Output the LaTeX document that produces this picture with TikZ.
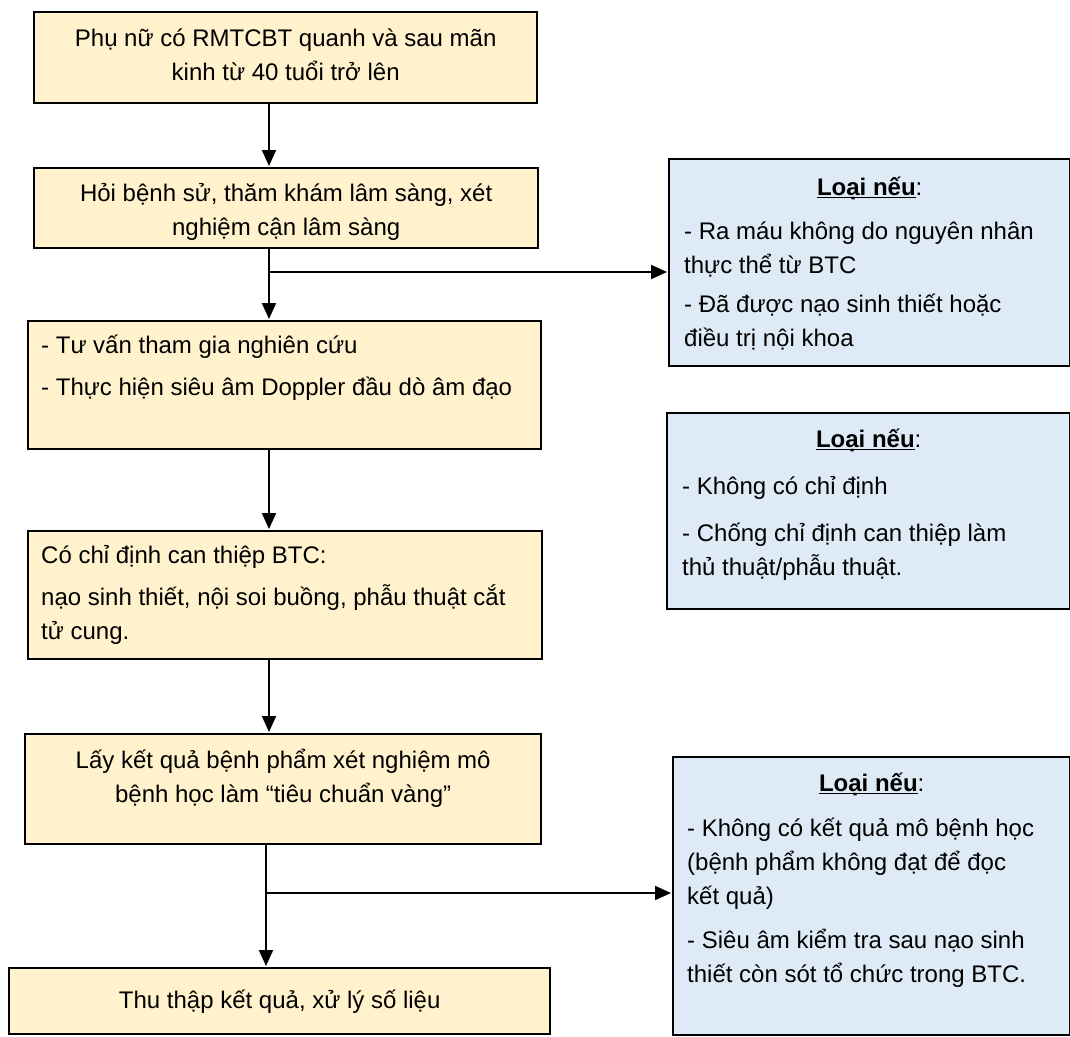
\documentclass[tikz,border=0pt]{standalone}
\usepackage{fontspec}
\setmainfont{Liberation Sans}
\usetikzlibrary{arrows.meta,positioning}
\definecolor{stepfill}{HTML}{FFF2CC}
\definecolor{exclfill}{HTML}{DEEBF7}
\newcommand{\boxfont}{\fontsize{24}{34}\selectfont}
\newcommand{\tstrut}{\rule{0pt}{26pt}}
% width, height, top gap, content
\newcommand{\boxtext}[4]{\parbox[c][#2][t]{#1}{\boxfont\vspace*{#3}#4}}
\newcommand{\headul}[1]{\setbox0\hbox{#1}\rlap{\rule[-3pt]{\wd0}{1.5pt}}\box0}
\newcommand{\exclhead}{{\centering\tstrut\headul{\textbf{Loại nếu}}:\par}}
\tikzset{
  >={Triangle[length=16pt,width=14pt]},
  stepbox/.style={draw=black,line width=2.4pt,fill=stepfill,inner sep=0pt,
    anchor=north west},
  exclbox/.style={stepbox,fill=exclfill},
  flow/.style={->,line width=2pt,shorten >=1pt},
  link/.style={line width=2pt},
}

\begin{document}
\begin{tikzpicture}[x=1pt,y=-1pt]
  \useasboundingbox (0,0) rectangle (1070,1036);
  % main column
  \node[stepbox] (sIn) at (33,11) {\boxtext{503pt}{91pt}{8pt}{\centering\tstrut
    Phụ nữ có RMTCBT quanh và sau mãn\\ kinh từ 40 tuổi trở lên}};
  \node[stepbox] (sExam) at (33,167) {\boxtext{504pt}{80pt}{7pt}{\centering\tstrut
    Hỏi bệnh sử, thăm khám lâm sàng, xét\\ nghiệm cận lâm sàng}};
  \node[stepbox] (sCons) at (27,320) {\boxtext{513pt}{128pt}{6pt}{\raggedright
    \leftskip=13pt\tstrut - Tư vấn tham gia nghiên cứu\par\vspace{8pt}
    - Thực hiện siêu âm Doppler đầu dò âm đạo}};
  \node[stepbox] (sInd) at (27,530) {\boxtext{514pt}{128pt}{6pt}{\raggedright
    \leftskip=13pt\tstrut Có chỉ định can thiệp BTC:\par\vspace{8pt}
    nạo sinh thiết, nội soi buồng, phẫu thuật cắt\\ tử cung.}};
  \node[stepbox] (sPath) at (24,733) {\boxtext{516pt}{110pt}{8pt}{\centering\tstrut
    Lấy kết quả bệnh phẩm xét nghiệm mô\\ bệnh học làm “tiêu chuẩn vàng”}};
  \node[stepbox] (sData) at (8,967) {\boxtext{541pt}{66pt}{14pt}{\centering\tstrut
    Thu thập kết quả, xử lý số liệu}};
  % exclusion boxes
  \node[exclbox] (xExam) at (668,158) {\boxtext{401pt}{207pt}{10pt}{\raggedright
    \leftskip=15pt\exclhead\vspace{10pt}
    - Ra máu không do nguyên nhân\\ thực thể từ BTC\par\vspace{5pt}
    - Đã được nạo sinh thiết hoặc\\ điều trị nội khoa}};
  \node[exclbox] (xCons) at (666,412) {\boxtext{403pt}{196pt}{8pt}{\raggedright
    \leftskip=15pt\exclhead\vspace{13pt}
    - Không có chỉ định\par\vspace{13pt}
    - Chống chỉ định can thiệp làm\\ thủ thuật/phẫu thuật.}};
  \node[exclbox] (xPath) at (672,756) {\boxtext{397pt}{278pt}{8pt}{\raggedright
    \leftskip=14pt\exclhead\vspace{11pt}
    - Không có kết quả mô bệnh học\\ (bệnh phẩm không đạt để đọc\\ kết quả)\par\vspace{10pt}
    - Siêu âm kiểm tra sau nạo sinh\\ thiết còn sót tổ chức trong BTC.}};
  % connectors
  \coordinate (j1) at (269,272);
  \coordinate (j2) at (266,893);
  \draw[flow] (sIn.south -| j1) -- (sExam.north -| j1);
  \draw[link] (sExam.south -| j1) -- (j1);
  \draw[flow] (j1) -- (sCons.north -| j1);
  \draw[flow] (j1) -- (xExam.west |- j1);
  \draw[flow] (sCons.south -| j1) -- (sInd.north -| j1);
  \draw[flow] (sInd.south -| j1) -- (sPath.north -| j1);
  \draw[link] (sPath.south -| j2) -- (j2);
  \draw[flow] (j2) -- (sData.north -| j2);
  \draw[flow] (j2) -- (xPath.west |- j2);
\end{tikzpicture}
\end{document}
